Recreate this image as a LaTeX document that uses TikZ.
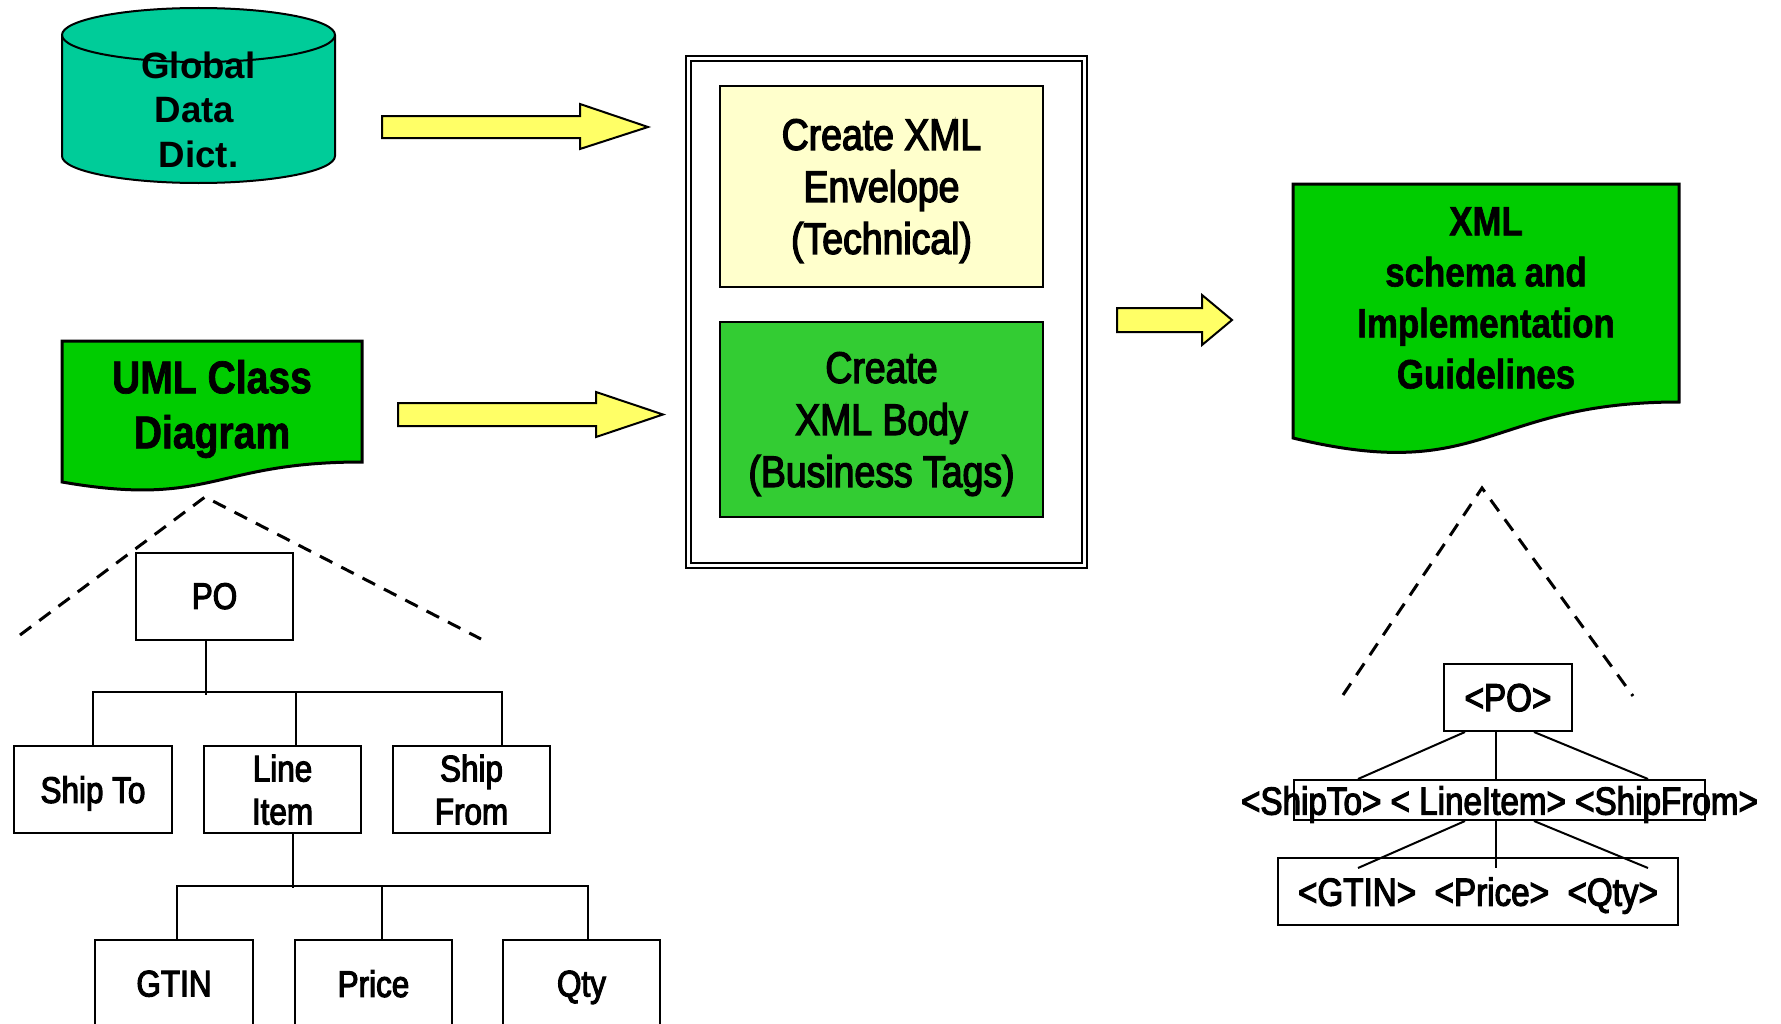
\documentclass[tikz,border=0pt]{standalone}
\usepackage{fontspec}
\setmainfont{Liberation Sans}
\newfontfamily\narrowboldfont{Liberation Sans Bold}[FakeStretch=0.85, FakeBold=1.5]
\newfontfamily\narrowmedfont{Liberation Sans}[FakeStretch=0.85, FakeBold=3]
\usetikzlibrary{calc}
\definecolor{dictteal}{HTML}{00CC99}
\definecolor{docgreen}{HTML}{00CC00}
\definecolor{bodygreen}{HTML}{33CC33}
\definecolor{envyellow}{HTML}{FFFFCC}
\definecolor{arrowyellow}{HTML}{FFFF66}
\def\px{0.75pt}
\begin{document}
\begin{tikzpicture}[x=0.75pt, y=-0.75pt,
  blackline/.style={draw=black, line width=1.5pt},
  blockarrow/.style={blackline, fill=arrowyellow, line join=miter},
  docshape/.style={draw=black, line width=2.25pt, fill=docgreen, line join=miter},
  zoomline/.style={line width=2.25pt, dash pattern=on 10.5pt off 7.5pt},
  tree/.style={line width=1.5pt},
  treebox/.style={blackline, inner sep=0pt, minimum width=157.5*\px, minimum height=87*\px,
    text depth=0pt, align=center, font=\narrowmedfont\fontsize{27.75pt}{32.25pt}\selectfont},
  stepbox/.style={blackline, inner sep=0pt, minimum width=323*\px, align=center, text depth=0pt,
    font=\narrowmedfont\fontsize{33pt}{39pt}\selectfont},
  tagbox/.style={blackline, inner sep=0pt},
  tagtext/.style={inner sep=0pt, font=\narrowmedfont\fontsize{29.3pt}{35pt}\selectfont},
  doctext/.style={inner sep=0pt, align=center},
]
\useasboundingbox (0,0) rectangle (1781,1024);
\clip (0,0) rectangle (1781,1024);

% data dictionary cylinder
\draw[blackline, fill=dictteal] (62,35) -- (62,156)
  arc[start angle=180, end angle=0, x radius=136.5, y radius=27] -- (335,35)
  arc[start angle=0, end angle=-180, x radius=136.5, y radius=27] -- cycle;
\draw[blackline] (62,35) arc[start angle=180, end angle=0, x radius=136.5, y radius=27];
\node[doctext, font=\bfseries\fontsize{27.5pt}{33.4pt}\selectfont] (dict) at (198.5,109.5)
  {Global\\Data\kern6pt\\Dict.};

% UML document
\draw[docshape] (62,341) -- (362,341) -- (362,462)
  .. controls (212,462) and (212,508) .. (62,482) -- cycle;
\node[doctext, font=\narrowboldfont\fontsize{34.5pt}{41.25pt}\selectfont] (uml) at (212,409)
  {UML Class\\Diagram};

% XML schema document
\draw[docshape] (1293,184) -- (1679,184) -- (1679,402)
  .. controls (1486,402) and (1486,485) .. (1293,438) -- cycle;
\node[doctext, font=\narrowboldfont\fontsize{30.75pt}{38.25pt}\selectfont] (guide) at (1486,298)
  {XML\\schema and\\Implementation\\Guidelines};

% process frame with its two steps
\draw[blackline] (686,56) rectangle (1087,568);
\draw[blackline] (691,61) rectangle (1082,563);
\node[stepbox, fill=envyellow, minimum height=200*\px] (env) at (881.5,186.5)
  {Create XML\\Envelope\\(Technical)};
\node[stepbox, fill=bodygreen, minimum height=195*\px] (body) at (881.5,419.5)
  {Create\\XML Body\\(Business Tags)};

% block arrows
\draw[blockarrow] (382,116) -- (580,116) -- (580,104) -- (648,127) -- (580,149) -- (580,138) -- (382,138) -- cycle;
\draw[blockarrow] (398,403) -- (596,403) -- (596,392) -- (663,414.5) -- (596,437) -- (596,426) -- (398,426) -- cycle;
\draw[blockarrow] (1117,308) -- (1202,308) -- (1202,295) -- (1232,320) -- (1202,345) -- (1202,332) -- (1117,332) -- cycle;

% class tree
\node[treebox] (po) at (214.5,596) {PO};
\node[treebox] (shipto) at (93,789.5) {Ship To};
\node[treebox] (lineitem) at (282.5,789.5) {Line\\Item};
\node[treebox] (shipfrom) at (471.5,789.5) {Ship\\From};
\node[treebox] (gtin) at (174,983.5) {GTIN};
\node[treebox] (price) at (373.5,983.5) {Price};
\node[treebox] (qty) at (581.5,983.5) {Qty};

\draw[tree] ($(po.south)+(-8.5,0)$) -- ++(0,54);
\draw[tree] (shipto.north) |- ($(shipfrom.north)+(30.5,-53)$) -- ($(shipfrom.north)+(30.5,0)$);
\draw[tree] ($(lineitem.north)+(13.5,0)$) -- ++(0,-53);
\draw[tree] ($(lineitem.south)+(10.5,0)$) -- ++(0,54);
\draw[tree] ($(gtin.north)+(3,0)$) |- ($(qty.north)+(6.5,-53)$) -- ($(qty.north)+(6.5,0)$);
\draw[tree] ($(price.north)+(8.5,0)$) -- ++(0,-53);

\draw[zoomline] (20,635) -- (205,497) -- (481,639);

% XML tag tree
\node[tagbox, tagtext, minimum width=128*\px, minimum height=67*\px, text depth=-4pt] (rpo) at (1508,697.5) {<PO>};
\node[tagbox, minimum width=411*\px, minimum height=40*\px] (rmid) at (1499.5,800) {};
\node[tagtext] (rmidtext) at ($(rmid.center)+(0,4.5)$) {<ShipTo> < LineItem> <ShipFrom>};
\node[tagbox, tagtext, minimum width=400*\px, minimum height=67*\px, text depth=0pt] (rbot) at (1478,891.5)
  {<GTIN>\ \ <Price>\ \ <Qty>};

\draw[tree] ($(rpo.south)+(-43,0)$) -- ($(rmid.north)+(-141.5,0)$);
\draw[tree] ($(rpo.south)+(-12,0)$) -- ($(rmid.north)+(-3.5,0)$);
\draw[tree] ($(rpo.south)+(26,0)$) -- ($(rmid.north)+(148.5,0)$);
\draw[tree] ($(rmid.south)+(-34.5,0)$) -- ($(rbot.north)+(-120,11)$);
\draw[tree] ($(rmid.south)+(-3.5,0)$) -- ($(rbot.north)+(18,11)$);
\draw[tree] ($(rmid.south)+(34.5,0)$) -- ($(rbot.north)+(170,11)$);

\draw[zoomline] (1343,695) -- (1482,488) -- (1633,696);
\end{tikzpicture}
\end{document}
